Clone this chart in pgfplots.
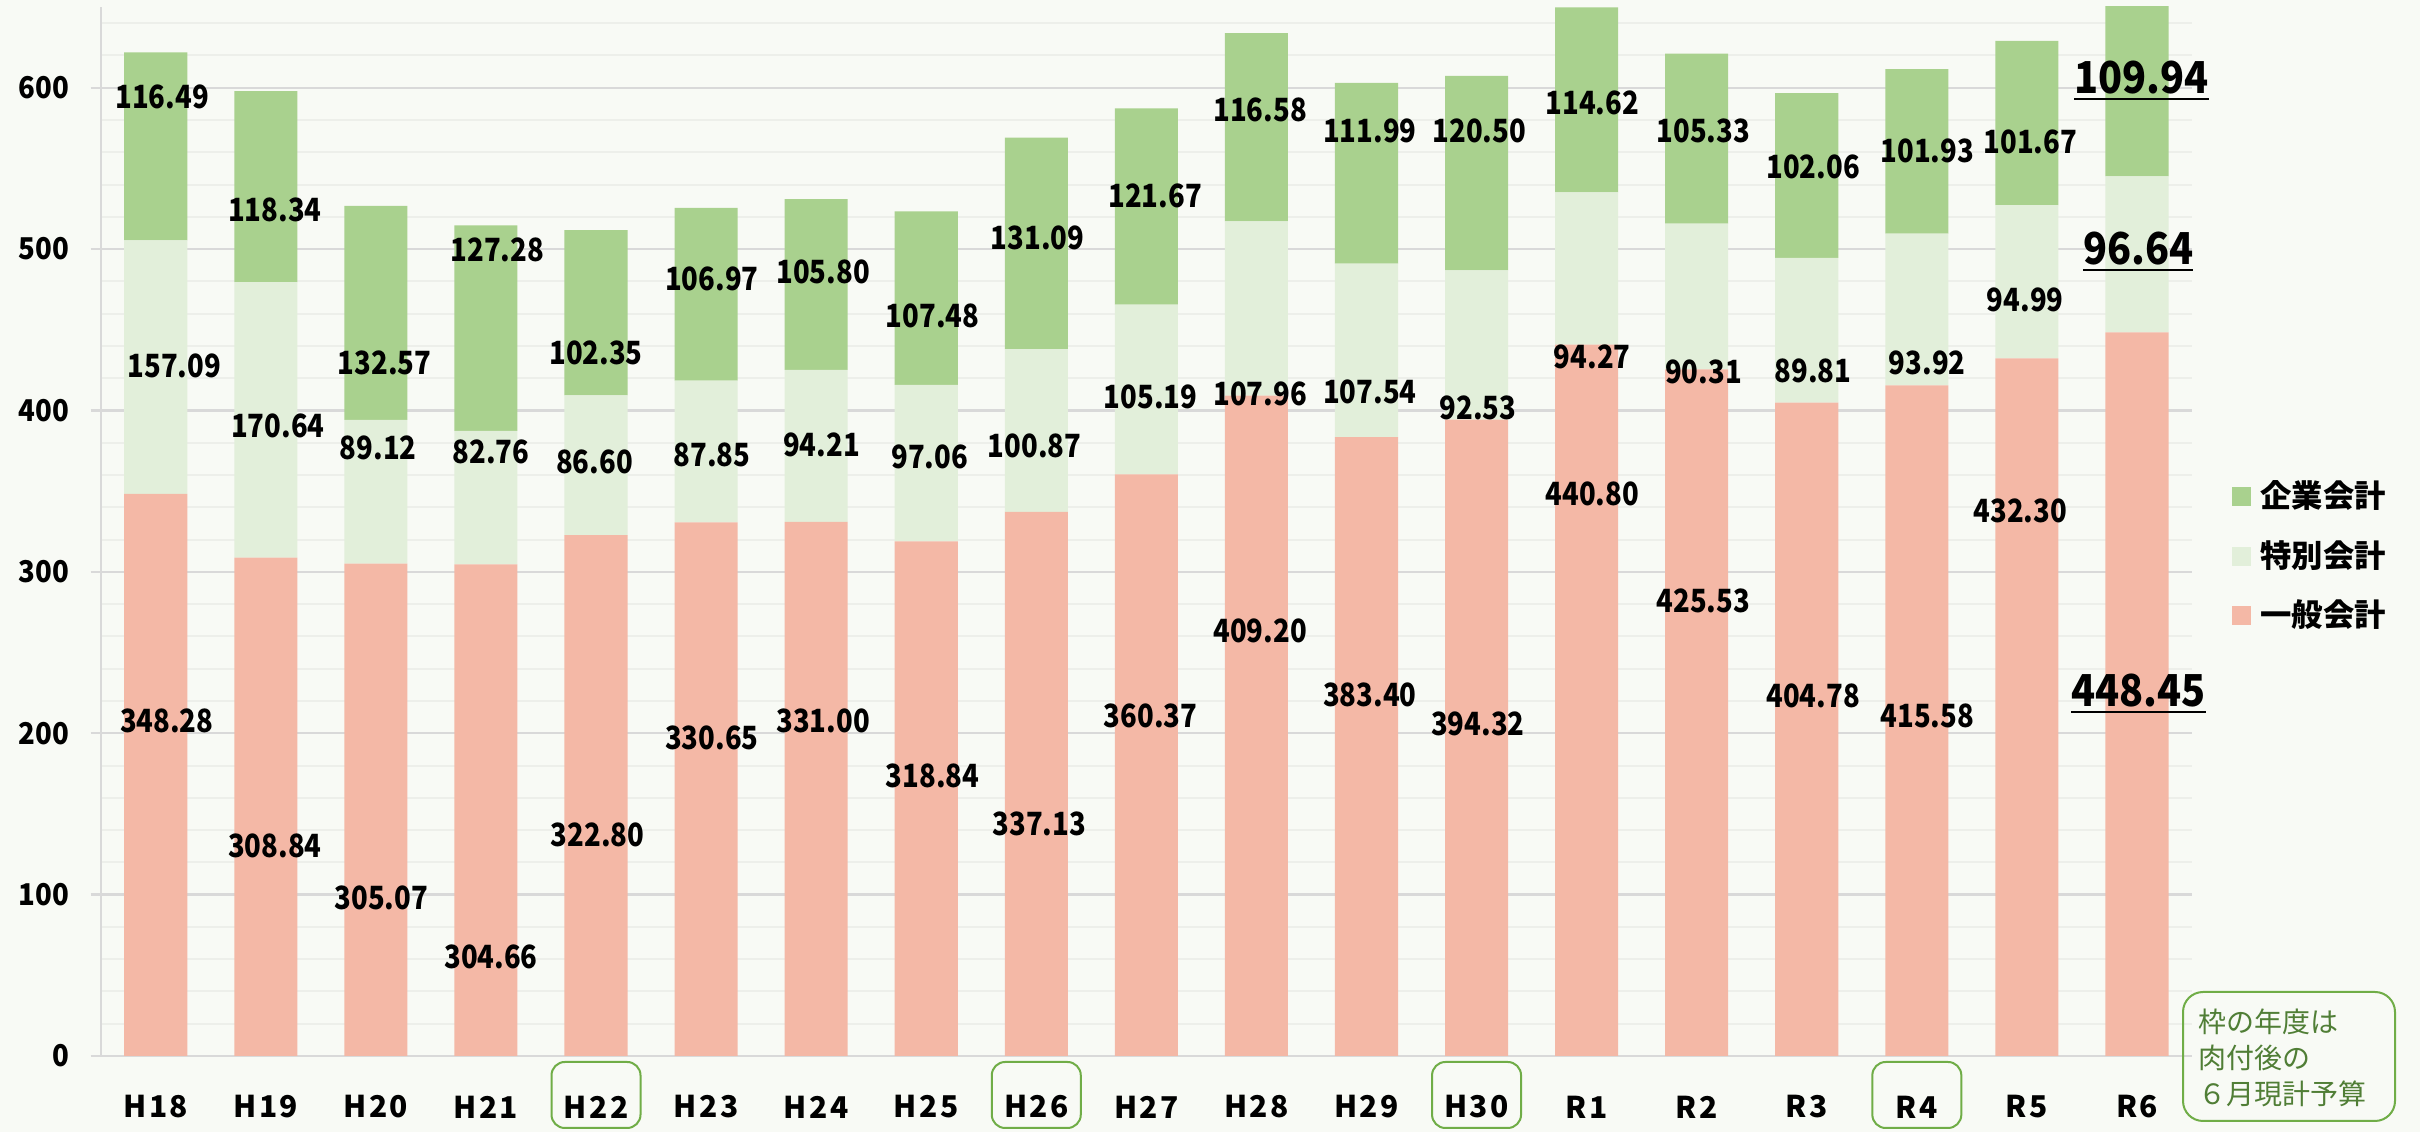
\documentclass[border=0pt]{standalone}
\usepackage{fontspec}
\setmainfont{Noto Sans CJK JP}
\usepackage{pgfplots}
\pgfplotsset{compat=1.18}
\usepackage{pgfplotstable}
\definecolor{bg}{HTML}{F8FAF5}
\definecolor{kigyo}{HTML}{A9D18E}
\definecolor{tokubetsu}{HTML}{E2EFDA}
\definecolor{ippan}{HTML}{F4B8A6}
\definecolor{gridmajor}{HTML}{D9D9D9}
\definecolor{gridminor}{HTML}{EDEFEA}
\definecolor{notegreen}{HTML}{70AD47}
\definecolor{notetext}{HTML}{507E36}

\pgfplotstableread{
x ippan tokubetsu kigyo
0 348.28 157.09 116.49
1 308.84 170.64 118.34
2 305.07 89.12 132.57
3 304.66 82.76 127.28
4 322.80 86.60 102.35
5 330.65 87.85 106.97
6 331.00 94.21 105.80
7 318.84 97.06 107.48
8 337.13 100.87 131.09
9 360.37 105.19 121.67
10 409.20 107.96 116.58
11 383.40 107.54 111.99
12 394.32 92.53 120.50
13 440.80 94.27 114.62
14 425.53 90.31 105.33
15 404.78 89.81 102.06
16 415.58 93.92 101.93
17 432.30 94.99 101.67
18 448.45 96.64 109.94
}\datatable

\newcommand{\lbl}[3]{\node[font=\bfseries\fontsize{9.6}{9.6}\selectfont\addfontfeature{FakeStretch=0.86}, inner sep=0pt, anchor=center] at (axis cs:#1,#2) {#3};}
\newcommand{\biglbl}[3]{\node[font=\bfseries\fontsize{13.2}{13.2}\selectfont\addfontfeature{FakeStretch=0.9}, inner sep=0pt, anchor=center] at (axis cs:#1,#2) {\underline{#3}};}
\newcommand{\tickbox}[1]{\draw[notegreen, line width=0.6pt, rounded corners=4pt] ([xshift=-13.35pt, yshift=-1.8pt]axis cs:#1,0) rectangle ([xshift=13.35pt, yshift=-21.6pt]axis cs:#1,0);}

\newcommand{\alllabels}{%
% top labels
\lbl{0.058}{594.1}{116.49}
\lbl{1.082}{524.3}{118.34}
\lbl{2.078}{429.6}{132.57}
\lbl{3.103}{499.4}{127.28}
\lbl{4.000}{435.4}{102.35}
\lbl{5.053}{481.3}{106.97}
\lbl{6.063}{486.0}{105.80}
\lbl{7.059}{458.3}{107.48}
\lbl{8.013}{507.1}{131.09}
\lbl{9.080}{532.9}{121.67}
\lbl{10.034}{586.5}{116.58}
\lbl{11.030}{573.1}{111.99}
\lbl{12.026}{573.1}{120.50}
\lbl{13.051}{590.3}{114.62}
\lbl{14.061}{573.1}{105.33}
\lbl{15.057}{551.1}{102.06}
\lbl{16.095}{560.6}{101.93}
\lbl{17.03}{566.4}{101.67}
\biglbl{18.04}{604.2}{109.94}
% middle labels
\lbl{0.170}{427.7}{157.09}
\lbl{1.110}{390.4}{170.64}
\lbl{2.022}{377.0}{89.12}
\lbl{3.046}{374.1}{82.76}
\lbl{3.986}{368.4}{86.60}
\lbl{5.053}{372.2}{87.85}
\lbl{6.049}{378.9}{94.21}
\lbl{7.031}{371.3}{97.06}
\lbl{7.985}{378.0}{100.87}
\lbl{9.038}{408.6}{105.19}
\lbl{10.034}{410.5}{107.96}
\lbl{11.030}{411.4}{107.54}
\lbl{12.012}{401.9}{92.53}
\lbl{13.051}{433.4}{94.27}
\lbl{14.061}{423.9}{90.31}
\lbl{15.057}{424.8}{89.81}
\lbl{16.095}{429.6}{93.92}
\lbl{16.985}{468.5}{94.99}
\biglbl{18.012}{498.2}{96.64}
% bottom labels
\lbl{0.100}{207.7}{348.28}
\lbl{1.082}{130.3}{308.84}
\lbl{2.050}{97.8}{305.07}
\lbl{3.046}{61.4}{304.66}
\lbl{4.014}{137.0}{322.80}
\lbl{5.053}{197.2}{330.65}
\lbl{6.063}{207.7}{331.00}
\lbl{7.059}{173.3}{318.84}
\lbl{8.027}{143.7}{337.13}
\lbl{9.038}{210.6}{360.37}
\lbl{10.034}{263.2}{409.20}
\lbl{11.030}{224.0}{383.40}
\lbl{12.012}{205.8}{394.32}
\lbl{13.051}{348.3}{440.80}
\lbl{14.061}{282.3}{425.53}
\lbl{15.057}{223.0}{404.78}
\lbl{16.095}{210.6}{415.58}
\lbl{16.94}{337.7}{432.30}
\biglbl{18.012}{224.3}{448.45}
\tickbox{4}
\tickbox{8}
\tickbox{12}
\tickbox{16}
}

\begin{document}
\begin{tikzpicture}
\fill[bg] (0,0) rectangle (726pt,339.6pt);
\useasboundingbox (0,0) rectangle (726pt,339.6pt);
\begin{axis}[
  scale only axis, width=627.39pt, height=314.7pt,
  at={(30.21pt,22.8pt)}, anchor=south west,
  xmin=-0.5, xmax=18.5, ymin=0, ymax=650,
  ybar stacked, bar width=0.573,
  axis lines=left,
  axis line style={-, draw=gridmajor, line width=0.7pt},
  xtick={0,...,18},
  xticklabels={H18,H19,H20,H21,H22,H23,H24,H25,H26,H27,H28,H29,H30,R1,R2,R3,R4,R5,R6},
  xtick style={draw=none},
  ytick={0,100,...,600},
  minor ytick={20,40,...,640},
  ymajorgrids, yminorgrids,
  major grid style={draw=gridmajor, line width=0.7pt},
  minor grid style={draw=gridminor, line width=0.6pt},
  tick align=outside, major tick length=3pt, minor tick length=0pt,
  ytick style={draw=gridmajor, line width=0.7pt},
  /pgf/number format/assume math mode=true,
  yticklabel style={font=\bfseries\fontsize{9}{9}\selectfont\addfontfeature{FakeStretch=0.92}, anchor=east, inner sep=0pt, xshift=-6.2pt},
  xticklabel style={font=\bfseries\fontsize{9}{9}\selectfont\addfontfeature{LetterSpace=8}, anchor=center, inner sep=0pt, yshift=-12.3pt},
  legend style={draw=none, fill=none, at={(1.019,0.4766)}, anchor=west,
    font=\bfseries\fontsize{9.4}{9.4}\selectfont, row sep=5.2pt, inner sep=0pt,
    nodes={inner sep=1.5pt}, cells={anchor=west}},
  legend image code/.code={\fill[#1] (0pt,-2.85pt) rectangle (5.7pt,2.85pt);},
  reverse legend,
  after end axis/.code={\alllabels},
]
\addplot[fill=ippan, draw=none] table[x=x, y=ippan] {\datatable};
\addplot[fill=tokubetsu, draw=none] table[x=x, y=tokubetsu] {\datatable};
\addplot[fill=kigyo, draw=none] table[x=x, y=kigyo] {\datatable};
\addlegendentry{\hspace{1.2pt}一般会計}
\addlegendentry{\hspace{1.2pt}特別会計}
\addlegendentry{\hspace{1.2pt}企業会計}
\end{axis}
\draw[notegreen, line width=0.6pt, rounded corners=6pt] (654.9pt,3.3pt) rectangle (718.5pt,42pt);
\node[anchor=west, align=left, text=notetext, font=\fontsize{8.4}{10.8}\selectfont, inner sep=0pt] at (659.4pt,22.2pt) {枠の年度は\\肉付後の\\６月現計予算};
\end{tikzpicture}
\end{document}
